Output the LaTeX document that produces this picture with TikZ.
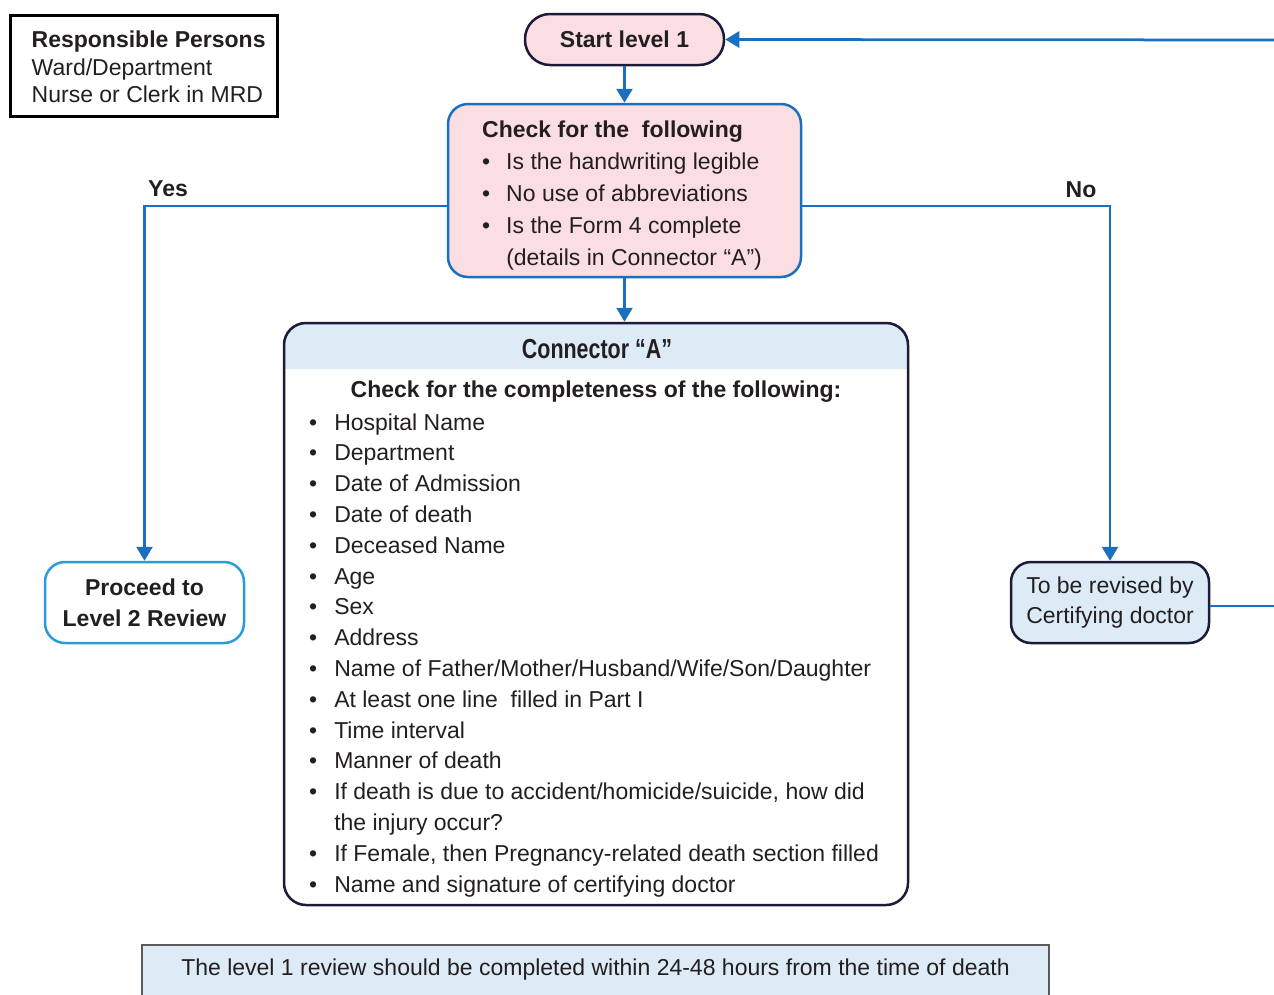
\documentclass[tikz,border=0pt]{standalone}
\usepackage{fontspec}
\setmainfont{Liberation Sans}
\newfontfamily\condfont[FakeStretch=0.78]{Liberation Sans}
\usetikzlibrary{arrows.meta,backgrounds}
\definecolor{flowblue}{HTML}{1B6FBF}
\definecolor{lightflow}{HTML}{2A9CD8}
\definecolor{navyline}{HTML}{1C1C3A}
\definecolor{pinkfill}{HTML}{FBDEE1}
\definecolor{headblue}{HTML}{DDEBF7}
\definecolor{inkgray}{HTML}{231F20}
\definecolor{notegray}{HTML}{5A5A5A}
\tikzset{
  flow/.style={draw=flowblue, line width=2.75pt, -{Triangle[length=14pt,width=16pt]}},
  flowline/.style={draw=flowblue, line width=2.75pt},
  branchlabel/.style={font=\fontsize{23}{27.5}\selectfont\bfseries}
}

\begin{document}
\begin{tikzpicture}
[every node/.style={inner sep=0pt, text=inkgray, font=\fontsize{23}{27.5}\selectfont}]
\useasboundingbox (0pt,0pt) rectangle (1274pt,-994pt);
\clip (0pt,0pt) rectangle (1274pt,-994pt);
\node (resp) [draw=black, line width=3pt, minimum width=267pt, minimum height=101pt] at (143.5pt, -65.5pt) {};
\node (resptext) [anchor=west, align=left] at ([xshift=23pt, yshift=-1.5pt]resp.west) {\textbf{Responsible Persons}\\Ward/Department\\Nurse or Clerk in MRD};
\node (start) [draw=navyline, fill=pinkfill, line width=2.5pt, rounded corners=25pt, minimum width=199pt, minimum height=51pt, font=\fontsize{23}{27.5}\selectfont\bfseries] at (624.5pt, -39.5pt) {Start level 1};
\node (check) [draw=flowblue, fill=pinkfill, line width=2.5pt, rounded corners=20pt, minimum width=353pt, minimum height=173pt] at (624.5pt, -190.5pt) {};
\node (checktext) [anchor=base west, font=\fontsize{23}{32.2}\selectfont] at (482pt, -137pt) {\begin{tabular}[t]{@{}l@{\hspace{16pt}}l@{}}
\multicolumn{2}{@{}l@{}}{\bfseries Check for the\ \ following}\\
\textbullet & Is the handwriting legible\\
\textbullet & No use of abbreviations\\
\textbullet & Is the Form 4 complete\\
 & (details in Connector “A”)
\end{tabular}};
\node (conn) [draw=navyline, line width=2.5pt, rounded corners=22pt, minimum width=624pt, minimum height=582pt] at (596pt, -614pt) {};
\begin{scope}[on background layer]
\clip [rounded corners=22pt] (conn.south west) rectangle (conn.north east);
\fill [headblue] (conn.north west) rectangle ([yshift=-47pt]conn.north east);
\end{scope}
\node (conntitle) [font=\fontsize{27.5}{30}\condfont\bfseries] at (597pt, -349pt) {Connector “A”};
\node (connsub) [font=\fontsize{23}{27.5}\selectfont\bfseries] at (596pt, -392pt) {Check for the completeness of the following:};
\node (connlist) [anchor=base west, font=\fontsize{23}{30.8}\selectfont] at (309pt, -430pt) {\begin{tabular}[t]{@{}l@{\hspace{17pt}}l@{}}
\textbullet & Hospital Name\\
\textbullet & Department\\
\textbullet & Date of Admission\\
\textbullet & Date of death\\
\textbullet & Deceased Name\\
\textbullet & Age\\
\textbullet & Sex\\
\textbullet & Address\\
\textbullet & Name of Father/Mother/Husband/Wife/Son/Daughter\\
\textbullet & At least one line\ \ filled in Part I\\
\textbullet & Time interval\\
\textbullet & Manner of death\\
\textbullet & If death is due to accident/homicide/suicide, how did\\
 & the injury occur?\\
\textbullet & If Female, then Pregnancy-related death section filled\\
\textbullet & Name and signature of certifying doctor
\end{tabular}};
\node (proceed) [draw=lightflow, line width=2.5pt, rounded corners=20pt, minimum width=199pt, minimum height=81pt, align=center, font=\fontsize{23}{31}\selectfont\bfseries] at (144.5pt, -602.5pt) {Proceed to\\Level 2 Review};
\node (revised) [draw=navyline, fill=headblue, line width=2.5pt, rounded corners=20pt, minimum width=198pt, minimum height=81pt, align=center, font=\fontsize{23}{30.5}\selectfont] at (1110pt, -602.5pt) {To be revised by\\Certifying doctor};
\node (note) [draw=notegray, fill=headblue, line width=1.5pt, minimum width=907pt, minimum height=64pt] at (595.5pt, -977pt) {};
\node (notetext) at (595.5pt, -970pt) {The level 1 review should be completed within 24-48 hours from the time of death};
\node (yes) [branchlabel] at (168pt, -189pt) {Yes};
\node (no) [branchlabel] at (1081pt, -190pt) {No};
\coordinate (topR) at (1290pt, -40pt);
\coordinate (botR) at (1290pt, -606pt);
\draw [flow] (start) -- (check);
\draw [flow] (check.south) -- (check.south |- conn.north);
\draw [flow] ([yshift=-15.5pt]check.west) -| (proceed.north);
\draw [flow] ([yshift=-15.5pt]check.east) -| (revised.north);
\draw [flowline] (revised.east |- botR) -- (botR);
\draw [flow] (topR) -- (start.east);
\end{tikzpicture}
\end{document}
